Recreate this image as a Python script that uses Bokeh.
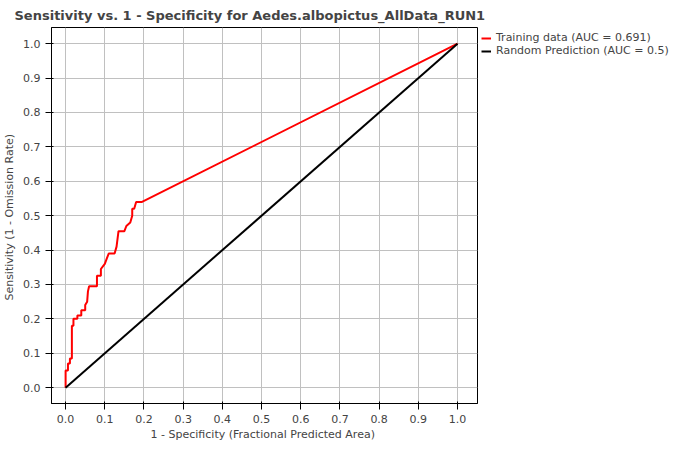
from bokeh.plotting import figure
from bokeh.models import Legend, LegendItem, Range1d, FixedTicker, NumeralTickFormatter
from bokeh.embed import file_html
from bokeh.resources import INLINE

# ROC staircase
fpr = [0, 0, 0.006, 0.006, 0.011, 0.011, 0.016, 0.016, 0.02, 0.02, 0.03, 0.03, 0.04, 0.04,
       0.05, 0.05, 0.055, 0.057, 0.06, 0.08, 0.08, 0.09, 0.09, 0.10, 0.105, 0.11, 0.125,
       0.13, 0.135, 0.15, 0.155, 0.165, 0.17, 0.17, 0.175, 0.18, 0.195, 1.0]
tpr = [0, 0.05, 0.05, 0.07, 0.07, 0.085, 0.085, 0.18, 0.18, 0.20, 0.20, 0.21, 0.21, 0.225,
       0.225, 0.24, 0.25, 0.28, 0.295, 0.295, 0.325, 0.325, 0.345, 0.36, 0.375, 0.39, 0.39,
       0.41, 0.455, 0.455, 0.47, 0.48, 0.5, 0.52, 0.52, 0.54, 0.54, 1.0]
rand_x = [0, 1]
rand_y = [0, 1]
ticks = [i / 10 for i in range(11)]

p = figure(width=684, height=434, frame_width=426, frame_height=376,
           output_backend="svg", toolbar_location=None,
           x_range=Range1d(-0.036, 1.051), y_range=Range1d(-0.046, 1.047),
           min_border_left=39, min_border_top=22, min_border_bottom=31)
p.title.text = "Sensitivity vs. 1 - Specificity for Aedes.albopictus_AllData_RUN1"
p.title.text_font = "DejaVu Sans"
p.title.text_font_size = "13px"
p.title.align = "left"
p.title.offset = -37
p.outline_line_color = "black"

for ax in (p.xaxis, p.yaxis):
    ax.ticker = FixedTicker(ticks=ticks)
    ax.formatter = NumeralTickFormatter(format="0.0")
    ax.major_label_text_font = "DejaVu Sans"
    ax.major_label_text_font_size = "11px"
    ax.axis_label_text_font = "DejaVu Sans"
    ax.axis_label_text_font_size = "11px"
    ax.axis_label_text_font_style = "normal"
    ax.minor_tick_line_color = None
    ax.axis_line_color = "black"
p.xaxis.axis_label = "1 - Specificity  (Fractional Predicted Area)"
p.yaxis.axis_label = "Sensitivity  (1 - Omission Rate)"
p.xaxis.axis_label_standoff = 2
p.yaxis.axis_label_standoff = 4
p.grid.grid_line_color = "#c0c0c0"
p.grid.grid_line_alpha = 1

r1 = p.line(fpr, tpr, line_color="red", line_width=2)
r2 = p.line(rand_x, rand_y, line_color="black", line_width=2)

leg = Legend(items=[LegendItem(label="Training data (AUC = 0.691)", renderers=[r1]),
                    LegendItem(label="Random Prediction (AUC = 0.5)", renderers=[r2])],
             location="top_left", border_line_color=None, background_fill_alpha=0,
             label_text_font="DejaVu Sans", label_text_font_size="11px",
             glyph_width=10, glyph_height=6, spacing=0, padding=0, margin=4,
             label_height=12)
p.add_layout(leg, "right")

open("out.html", "w").write(file_html(p, INLINE))
